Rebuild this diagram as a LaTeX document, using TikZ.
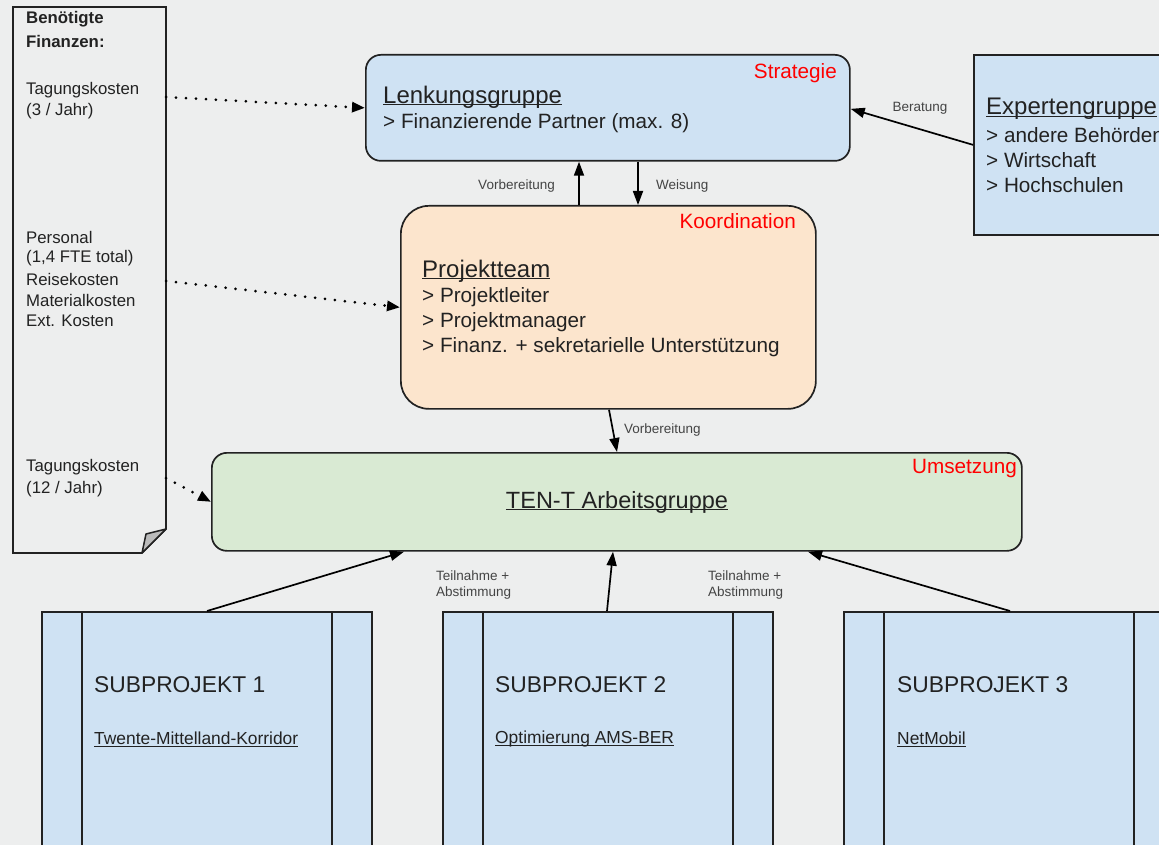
\documentclass[tikz,border=0pt]{standalone}
\usepackage{fontspec}
\setmainfont{Liberation Sans}
\usetikzlibrary{arrows.meta}
\definecolor{bg}{HTML}{EDEEEE}
\definecolor{lblue}{HTML}{CFE2F3}
\definecolor{lorange}{HTML}{FCE5CD}
\definecolor{lgreen}{HTML}{D9EAD3}
\definecolor{txt}{HTML}{222222}
\definecolor{small}{HTML}{444444}
\definecolor{edge}{HTML}{222222}
\definecolor{fold}{HTML}{BBBBBB}
\newcommand{\ulx}[1]{\underline{\smash{\mbox{#1}}}\vphantom{#1}}
\begin{document}
\begin{tikzpicture}[x=1pt,y=-1pt,
  box/.style={draw=edge, line width=1.7pt, inner sep=0, anchor=north west},
  tx/.style={inner sep=0, anchor=west, text=txt},
  body/.style={tx, font=\fontsize{20.7}{24}\selectfont},
  title/.style={tx, font=\fontsize{24}{28}\selectfont},
  side/.style={tx, font=\fontsize{16.8}{20}\selectfont},
  lab/.style={inner sep=0, text=small, font=\fontsize{13.5}{16}\selectfont},
  redlab/.style={inner sep=0, anchor=east, text=red, font=\fontsize{20.7}{24}\selectfont},
  arr/.style={draw=black, line width=1.7pt, -{Triangle[length=14pt,width=10pt]}},
  dotarr/.style={draw=black, line width=3pt, line cap=round, dash pattern=on 0pt off 10pt, -{Triangle[length=13pt,width=10pt]}}
]
\useasboundingbox[fill=bg] (0,0) rectangle (1159,845);
\clip (0,0) rectangle (1159,845);

% document box with folded corner
\draw[edge, line width=1.7pt, fill=bg] (13,7) -- (166,7) -- (166,529) -- (142,553) -- (13,553) -- cycle;
\draw[edge, line width=1.5pt, fill=fold, line join=round] (166,529) -- (146,534) -- (142,553) -- cycle;
\coordinate (d1) at (166,97);
\coordinate (d2) at (166,281);
\coordinate (d3) at (166,478);

\node[side, font=\fontsize{16.8}{20}\selectfont\bfseries] (f1) at (26,19) {Benötigte};
\node[side, font=\fontsize{16.8}{20}\selectfont\bfseries] (f2) at (26,41) {Finanzen:};
\node[side] (f3) at (26,90) {Tagungskosten};
\node[side] (f4) at (26,111) {(3 / Jahr)};
\node[side] (f5) at (26,237) {Personal};
\node[side] (f6) at (26,258) {(1,4 FTE total)};
\node[side] (f7) at (26,279) {Reisekosten};
\node[side] (f8) at (26,300) {Materialkosten};
\node[side] (f9) at (26,321) {Ext. Kosten};
\node[side] (f10) at (26,467) {Tagungskosten};
\node[side] (f11) at (26,489) {(12 / Jahr)};

% Lenkungsgruppe
\node[box, fill=lblue, rounded corners=15pt, minimum width=484pt, minimum height=106pt] (lenk) at (365,54) {};
\node[redlab] (strat) at (837,73) {Strategie};
\node[title] (lenkt) at (383,97) {\ulx{Lenkungsgruppe}};
\node[body] (lenk1) at (383,123) {> Finanzierende Partner (max. 8)};

% Expertengruppe
\node[box, fill=lblue, minimum width=220pt, minimum height=180pt] (exp) at (973,54) {};
\node[title] (expt) at (986,109) {\ulx{Expertengruppe}};
\node[body] (exp1) at (986,135) {> andere Behörden};
\node[body] (exp2) at (986,160) {> Wirtschaft};
\node[body] (exp3) at (986,185) {> Hochschulen};

% Projektteam
\node[box, fill=lorange, rounded corners=28pt, minimum width=415pt, minimum height=203pt] (pt) at (400,205) {};
\node[redlab] (koord) at (796,221) {Koordination};
\node[title] (ptt) at (422,271) {\ulx{Projektteam}};
\node[body] (pt1) at (422,297) {> Projektleiter};
\node[body] (pt2) at (422,322) {> Projektmanager};
\node[body] (pt3) at (422,347) {> Finanz. + sekretarielle Unterstützung};

% TEN-T Arbeitsgruppe
\node[box, fill=lgreen, rounded corners=15pt, minimum width=810pt, minimum height=98pt] (ten) at (211,452) {};
\node[redlab] (ums) at (1017,469) {Umsetzung};
\node[inner sep=0, text=txt, font=\fontsize{23.5}{28}\selectfont] (tent) at (617,502) {\ulx{TEN-T Arbeitsgruppe}};

% Subprojekte
\node[box, fill=lblue, minimum width=330pt, minimum height=260pt] (s1) at (41,611) {};
\node[box, fill=lblue, minimum width=330pt, minimum height=260pt] (s2) at (442,611) {};
\node[box, fill=lblue, minimum width=330pt, minimum height=260pt] (s3) at (843,611) {};
\foreach \s in {s1,s2,s3}{
  \draw[edge, line width=1.7pt] ([xshift=41pt]\s.north west) -- ([xshift=41pt]\s.south west);
  \draw[edge, line width=1.7pt] ([xshift=-41pt]\s.north east) -- ([xshift=-41pt]\s.south east);
}
\node[tx, font=\fontsize{22.8}{27}\selectfont] (s1t) at (94,685) {SUBPROJEKT 1};
\node[tx, font=\fontsize{17.4}{20}\selectfont] (s1u) at (94,739) {\ulx{Twente-Mittelland-Korridor}};
\node[tx, font=\fontsize{22.8}{27}\selectfont] (s2t) at (495,685) {SUBPROJEKT 2};
\node[tx, font=\fontsize{17.4}{20}\selectfont] (s2u) at (495,739) {\ulx{Optimierung AMS-BER}};
\node[tx, font=\fontsize{22.8}{27}\selectfont] (s3t) at (897,685) {SUBPROJEKT 3};
\node[tx, font=\fontsize{17.4}{20}\selectfont] (s3u) at (897,739) {\ulx{NetMobil}};

% solid connectors
\draw[arr] ([xshift=179pt]pt.north west) -- ([xshift=214pt]lenk.south west);
\draw[arr] ([xshift=273pt]lenk.south west) -- ([xshift=238pt]pt.north west);
\draw[arr] ([xshift=209pt]pt.south west) -- ([xshift=406pt]ten.north west);
\draw[arr] (exp.west) -- ([yshift=-1pt]lenk.east);
\draw[arr] ([xshift=166pt]s1.north west) -- ([xshift=193pt]ten.south west);
\draw[arr] ([xshift=165pt]s2.north west) -- ([xshift=402pt]ten.south west);
\draw[arr] ([xshift=167pt]s3.north west) -- ([xshift=597pt]ten.south west);

% connector labels
\node[lab, anchor=east] (l1) at (555,186) {Vorbereitung};
\node[lab, anchor=west] (l2) at (656,186) {Weisung};
\node[lab, anchor=west] (l3) at (624,430) {Vorbereitung};
\node[lab] (l4) at (920,108) {Beratung};
\node[lab, anchor=west] (l5) at (436,576) {Teilnahme +};
\node[lab, anchor=west] (l6) at (436,593) {Abstimmung};
\node[lab, anchor=west] (l7) at (708,576) {Teilnahme +};
\node[lab, anchor=west] (l8) at (708,593) {Abstimmung};

% dotted connectors
\draw[dotarr] (d1) -- (lenk.west);
\draw[dotarr] (d2) -- (pt.west);
\draw[dotarr] (d3) -- (ten.west);
\end{tikzpicture}
\end{document}
